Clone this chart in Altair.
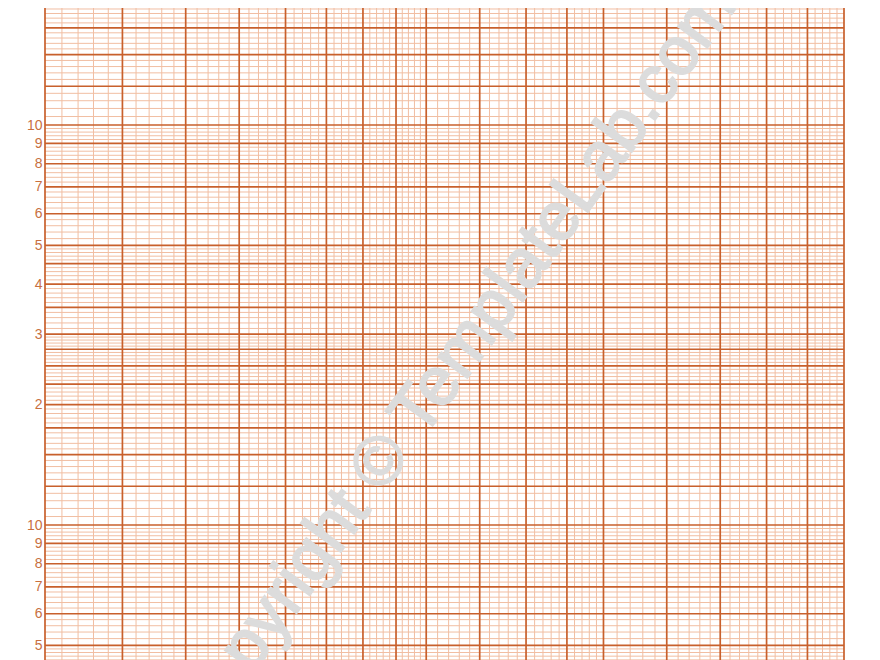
import altair as alt
import numpy as np
import pandas as pd

# Grid structure of one log cycle (values 1..10)
MAJOR_IN_CYCLE = [1, 1.25, 1.5, 1.75, 2, 2.25, 2.5, 2.75, 3, 3.5, 4, 4.5, 5, 6, 7, 8, 9, 10]
MINOR_BANDS = [(1, 3, 0.05), (3, 5, 0.1), (5, 10, 0.2)]  # start, stop, step
X_CYCLES = [1]
Y_CYCLES = [1, 10, 100]
Y_LABEL_STEPS = [2, 3, 4, 5, 6, 7, 8, 9, 10]
WATERMARK = "Copyright © TemplateLab.com"
WATERMARK_AT = (3.24, 25.3)

X_DOMAIN = [1, 10]
Y_DOMAIN = [10 ** 0.6425, 10 ** 2.2925]

MAJOR_COLOR = "#c8602c"
MINOR_COLOR = "#f1bea2"
LABEL_COLOR = "#c8703f"

minor_in_cycle = []
for a, b, s in MINOR_BANDS:
    for v in np.arange(a, b, s):
        v = round(float(v), 4)
        if v not in MAJOR_IN_CYCLE:
            minor_in_cycle.append(v)


def expand(cycle_vals, cycles, lo, hi):
    out = []
    for c in cycles:
        for v in cycle_vals:
            val = round(v * c, 6)
            if lo <= val <= hi and val not in out:
                out.append(val)
    return out


x_major = expand(MAJOR_IN_CYCLE, X_CYCLES, *X_DOMAIN)
x_minor = expand(minor_in_cycle, X_CYCLES, *X_DOMAIN)
y_major = expand(MAJOR_IN_CYCLE, Y_CYCLES, *Y_DOMAIN)
y_minor = expand(minor_in_cycle, Y_CYCLES, *Y_DOMAIN)
y_labels = expand(Y_LABEL_STEPS, Y_CYCLES, *Y_DOMAIN)

xs = alt.Scale(type="log", domain=X_DOMAIN, nice=False, zero=False)
ys = alt.Scale(type="log", domain=Y_DOMAIN, nice=False, zero=False)

label_expr = (
    "datum.value == 10 || datum.value == 100 ? '10' : "
    "toString(round(datum.value / pow(10, floor(log(datum.value) / LN10 + 1e-6))))"
)
y_axis = alt.Axis(
    values=y_labels,
    labelExpr=label_expr,
    grid=False,
    domain=False,
    ticks=False,
    labelPadding=3,
    labelFont="Liberation Sans",
    labelFontSize=14,
    labelColor=LABEL_COLOR,
    labelOverlap=False,
    labelFlush=False,
    labelBound=False,
    title=None,
)

vminor = alt.Chart(pd.DataFrame({"x": x_minor})).mark_rule(
    color=MINOR_COLOR, strokeWidth=1
).encode(x=alt.X("x:Q", scale=xs, axis=None))
hminor = alt.Chart(pd.DataFrame({"y": y_minor})).mark_rule(
    color=MINOR_COLOR, strokeWidth=1
).encode(y=alt.Y("y:Q", scale=ys, axis=y_axis))
vmajor = alt.Chart(pd.DataFrame({"x": x_major})).mark_rule(
    color=MAJOR_COLOR, strokeWidth=1.7
).encode(x=alt.X("x:Q", scale=xs, axis=None))
hmajor = alt.Chart(pd.DataFrame({"y": y_major})).mark_rule(
    color=MAJOR_COLOR, strokeWidth=1.7
).encode(y=alt.Y("y:Q", scale=ys, axis=y_axis))

wm = alt.Chart(
    pd.DataFrame({"t": [WATERMARK], "x": [WATERMARK_AT[0]], "y": [WATERMARK_AT[1]]})
).mark_text(
    angle=306,
    fontSize=68,
    fontWeight="normal",
    font="Liberation Sans",
    color="#dcdcdc",
    stroke="#dcdcdc",
    strokeWidth=2,
    align="center",
    baseline="middle",
).encode(
    x=alt.X("x:Q", scale=xs, axis=None),
    y=alt.Y("y:Q", scale=ys, axis=y_axis),
    text="t:N",
)

chart = (
    alt.layer(vminor, hminor, vmajor, hmajor, wm)
    .properties(
        width=799,
        height=660,
        padding={"left": 37, "top": 0, "right": 10, "bottom": 0},
        autosize=alt.AutoSizeParams(type="none"),
    )
    .configure_view(strokeWidth=0)
)

chart.save("out.html", embed_options={"renderer": "svg", "actions": False})
